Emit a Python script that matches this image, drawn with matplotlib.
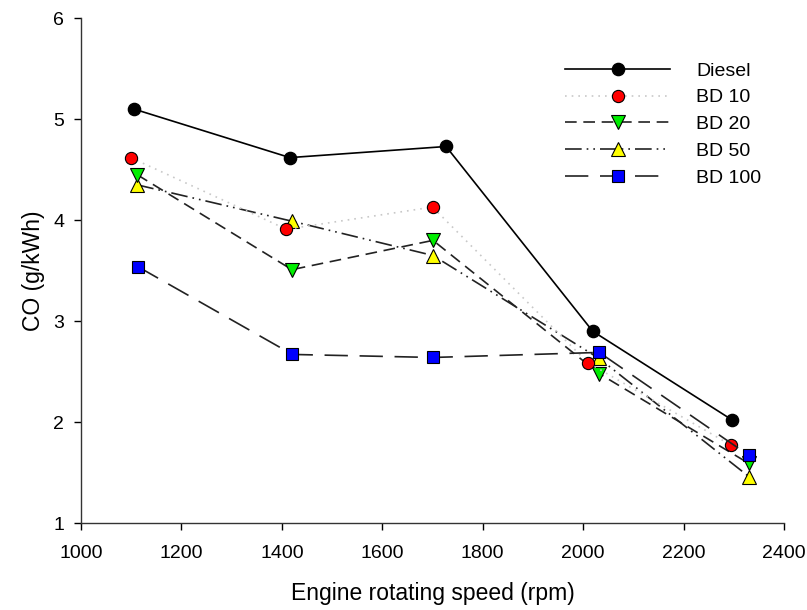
import matplotlib
matplotlib.use("Agg")
import matplotlib.pyplot as plt

plt.rcParams["font.family"] = ["Liberation Sans", "DejaVu Sans"]

# Valores
diesel_rpm = [1106, 1416, 1727, 2019, 2297]
diesel_co = [5.10, 4.62, 4.73, 2.90, 2.02]

bd10_rpm = [1099, 1409, 1700, 2009, 2295]
bd10_co = [4.62, 3.91, 4.13, 2.59, 1.77]

bd20_rpm = [1112, 1420, 1701, 2032, 2330]
bd20_co = [4.45, 3.51, 3.80, 2.48, 1.59]

bd50_rpm = [1112, 1420, 1701, 2032, 2330]
bd50_co = [4.35, 3.99, 3.65, 2.63, 1.46]

bd100_rpm = [1113, 1421, 1701, 2032, 2330]
bd100_co = [3.54, 2.67, 2.64, 2.69, 1.67]

x_ticks = [1000, 1200, 1400, 1600, 1800, 2000, 2200, 2400]
y_ticks = [1, 2, 3, 4, 5, 6]

fig = plt.figure(figsize=(8.07, 6.10), dpi=100)
ax = fig.add_axes([0.1004, 0.1426, 0.8711, 0.8274])

MS = 8.8
ax.plot(diesel_rpm, diesel_co, color="black", lw=1.2, marker="o", ms=MS,
        mfc="black", mec="black", label="Diesel", zorder=5)
ax.plot(bd10_rpm, bd10_co, color="#c8c8c8", lw=1.2, ls=(0, (1, 3)), marker="o", ms=MS,
        mfc="red", mec="black", mew=0.8, label="BD 10", zorder=4)
ax.plot(bd20_rpm, bd20_co, color="#222222", lw=1.2, ls=(0, (7, 4)), marker="v", ms=MS + 1,
        mfc="#00ee00", mec="black", mew=0.8, label="BD 20", zorder=3)
ax.plot(bd50_rpm, bd50_co, color="#222222", lw=1.2, ls=(0, (10, 3, 1, 3, 1, 3)), marker="^", ms=MS + 1,
        mfc="yellow", mec="black", mew=0.8, label="BD 50", zorder=2)
ax.plot(bd100_rpm, bd100_co, color="#222222", lw=1.2, ls=(0, (14, 7)), marker="s", ms=MS,
        mfc="blue", mec="black", mew=0.8, label="BD 100", zorder=6)

ax.set_xlim(1000, 2400)
ax.set_ylim(1, 6)
ax.set_xticks(x_ticks)
ax.set_yticks(y_ticks)
ax.tick_params(axis="both", direction="out", length=5, width=1, labelsize=14, pad=7)
ax.tick_params(axis="x", pad=11)

for side in ["top", "right"]:
    ax.spines[side].set_visible(False)
for side in ["left", "bottom"]:
    ax.spines[side].set_linewidth(1)
    ax.spines[side].set_color("#333333")

ax.set_xlabel("Engine rotating speed (rpm)", fontsize=16.5, labelpad=14)
ax.set_ylabel("CO (g/kWh)", fontsize=16.5, labelpad=6)

ax.legend(loc="upper left", bbox_to_anchor=(565 / 807, 1 - 62 / 610),
          bbox_transform=fig.transFigure, frameon=False, fontsize=14,
          handlelength=5.4, handletextpad=1.35, labelspacing=0.47,
          borderpad=0, borderaxespad=0)

fig.savefig("out.png", dpi=100)
